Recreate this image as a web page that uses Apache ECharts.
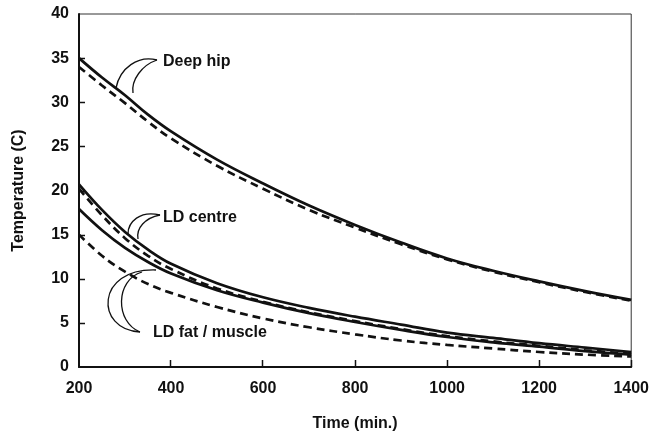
<!DOCTYPE html>
<html>
<head>
<meta charset="utf-8">
<script src="https://cdn.jsdelivr.net/npm/echarts@6/dist/echarts.min.js"></script>
<style>
html,body{margin:0;padding:0;background:#fff;}
#c{width:652px;height:447px;}
</style>
</head>
<body>
<div id="c"></div>
<script>
var times = [200, 250, 300, 350, 400, 500, 600, 700, 800, 900, 1000, 1100, 1200, 1300, 1400];
var deepHipSolid  = [35.0, 32.8, 30.8, 28.6, 26.7, 23.5, 20.8, 18.3, 16.1, 14.1, 12.3, 10.9, 9.7, 8.6, 7.6];
var deepHipDashed = [34.0, 31.9, 29.9, 27.8, 25.9, 22.8, 20.2, 17.8, 15.8, 13.9, 12.2, 10.8, 9.6, 8.5, 7.5];
var ldCentreSolid  = [20.7, 17.8, 15.3, 13.3, 11.7, 9.5, 7.9, 6.7, 5.7, 4.8, 3.9, 3.3, 2.7, 2.2, 1.7];
var ldCentreDashed = [20.2, 17.2, 14.6, 12.6, 11.1, 8.9, 7.4, 6.2, 5.2, 4.3, 3.5, 2.9, 2.4, 1.9, 1.5];
var ldFatSolid  = [17.9, 15.5, 13.5, 11.9, 10.6, 8.7, 7.3, 6.1, 5.1, 4.2, 3.4, 2.8, 2.3, 1.8, 1.4];
var ldFatDashed = [15.0, 12.6, 10.8, 9.4, 8.4, 6.8, 5.5, 4.5, 3.7, 3.0, 2.5, 2.1, 1.7, 1.4, 1.2];
var xTicks = [200, 400, 600, 800, 1000, 1200, 1400];
var yTicks = [0, 5, 10, 15, 20, 25, 30, 35, 40];
var labels = {deepHip: 'Deep hip', ldCentre: 'LD centre', ldFat: 'LD fat / muscle'};

function pairs(vals){ return times.map(function(t,i){ return [t, vals[i]]; }); }

var FONT = '"Liberation Sans", Arial, sans-serif';
var INK = '#111';
var G = {left: 79, right: 20, top: 14, bottom: 80};
var W = 652, H = 447;

function line(name, vals, dashed){
  return {
    name: name, type: 'line', data: pairs(vals), smooth: 0.4, symbol: 'none',
    lineStyle: {color: INK, width: 2.7, type: dashed ? [8,5] : 'solid'},
    silent: true, animation: false, z: 3
  };
}

function curve(p){
  return {type:'bezierCurve', shape:{x1:p[0],y1:p[1],cpx1:p[2],cpy1:p[3],cpx2:p[4],cpy2:p[5],x2:p[6],y2:p[7]},
    style:{stroke:INK, lineWidth:1.3, fill:null}, z:100};
}
function txt(s, x, y){
  return {type:'text', x:x, y:y, style:{text:s, font:'bold 16px ' + FONT, fill:INK, textVerticalAlign:'middle', verticalAlign:'middle'}, z:100};
}

var elements = [
  curve([157,60, 138,55, 120,68, 116,88]),
  curve([157,60, 142,65, 131,80, 133,93]),
  txt(labels.deepHip, 163, 62),
  curve([160,215, 140,210, 128,222, 128,234]),
  curve([160,215, 145,218, 136,228, 138,239]),
  txt(labels.ldCentre, 163, 218),
  curve([140,332, 95,330, 95,268, 156,270]),
  curve([140,332, 115,322, 115,280, 142,272]),
  txt(labels.ldFat, 153, 333)
];

// inward tick marks at the tick values, scaled into the grid box
var xMin = xTicks[0], xMax = xTicks[xTicks.length-1];
var yMin = yTicks[0], yMax = yTicks[yTicks.length-1];
var gx0 = G.left, gx1 = W - G.right, gy0 = H - G.bottom, gy1 = G.top;
xTicks.slice(1).forEach(function(v){
  var px = Math.round(gx0 + (v - xMin) / (xMax - xMin) * (gx1 - gx0)) - 0.5;
  elements.push({type:'line', shape:{x1:px, y1:gy0, x2:px, y2:gy0-7}, style:{stroke:INK, lineWidth:1.5}, z:100});
});
yTicks.slice(1, -1).forEach(function(v){
  var py = Math.round(gy0 + (v - yMin) / (yMax - yMin) * (gy1 - gy0)) + 0.5;
  elements.push({type:'line', shape:{x1:gx0, y1:py, x2:gx0+6, y2:py}, style:{stroke:INK, lineWidth:1.5}, z:100});
});

var chart = echarts.init(document.getElementById('c'), null, {renderer:'canvas'});
chart.setOption({
  animation: false,
  backgroundColor: '#fff',
  grid: {left: G.left, right: G.right, top: G.top, bottom: G.bottom, show: true, borderColor: '#333', borderWidth: 1},
  xAxis: {
    type: 'value', min: xMin, max: xMax, interval: 200,
    name: 'Time (min.)', nameLocation: 'middle', nameGap: 49,
    nameTextStyle: {fontFamily: FONT, fontWeight: 'bold', fontSize: 16, color: INK},
    axisLine: {show: true, onZero: false, lineStyle: {color: INK, width: 2}},
    axisTick: {show: false},
    axisLabel: {fontFamily: FONT, fontWeight: 'bold', fontSize: 16, color: INK, margin: 14,
      formatter: function(v){ return String(v); }},
    splitLine: {show: false}
  },
  yAxis: {
    type: 'value', min: yMin, max: yMax, interval: 5,
    name: 'Temperature (C)', nameLocation: 'middle', nameGap: 52,
    nameTextStyle: {fontFamily: FONT, fontWeight: 'bold', fontSize: 16, color: INK},
    axisLine: {show: true, onZero: false, lineStyle: {color: INK, width: 2}},
    axisTick: {show: false},
    axisLabel: {fontFamily: FONT, fontWeight: 'bold', fontSize: 16, color: INK, margin: 10,
      formatter: function(v){ return String(v); }},
    splitLine: {show: false}
  },
  series: [
    line('Deep hip solid', deepHipSolid, false),
    line('Deep hip dashed', deepHipDashed, true),
    line('LD centre solid', ldCentreSolid, false),
    line('LD centre dashed', ldCentreDashed, true),
    line('LD fat solid', ldFatSolid, false),
    line('LD fat dashed', ldFatDashed, true)
  ],
  graphic: {elements: elements}
});
</script>
</body>
</html>
